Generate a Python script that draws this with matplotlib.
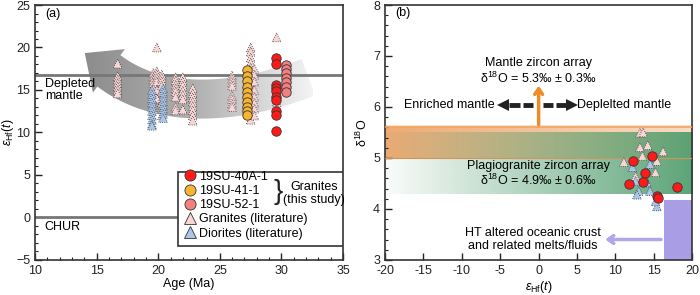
import matplotlib
matplotlib.use('Agg')
import matplotlib.pyplot as plt
import numpy as np
from matplotlib.patches import Polygon, Rectangle
from matplotlib.lines import Line2D
from matplotlib.colors import LinearSegmentedColormap, to_rgb

plt.rcParams['font.family'] = ['Liberation Sans', 'DejaVu Sans']
plt.rcParams['mathtext.fontset'] = 'custom'
plt.rcParams['mathtext.rm'] = 'Liberation Sans'
plt.rcParams['mathtext.it'] = 'Liberation Sans:italic'
plt.rcParams['font.size'] = 8

# ---- panel (a) data: age (Ma) vs eHf(t) ----
lit_granite_age = ([16.7] * 7 + [19.6] * 9 + [19.9] * 7 + [20.3] * 7 + [21.4] * 8 + [22.0] * 7
                   + [22.8] * 8 + [26.0] * 8 + [27.5] * 16 + [27.8] * 8 + [29.6] * 2)
lit_granite_ehf = ([18.1, 16.6, 16.2, 15.8, 15.4, 15.0, 14.6]
                   + [17.0, 16.6, 16.2, 15.8, 15.2, 14.6, 14.0, 13.4, 12.8]
                   + [20.0, 17.2, 16.8, 16.4, 16.0, 15.0, 14.0]
                   + [16.8, 16.4, 16.0, 15.5, 14.8, 13.5, 12.0]
                   + [16.5, 16.1, 15.6, 15.2, 14.8, 14.2, 13.0, 12.6]
                   + [16.5, 16.0, 15.5, 14.9, 14.4, 13.9, 12.7]
                   + [15.2, 14.6, 14.1, 13.6, 13.1, 12.6, 12.0, 11.4]
                   + [16.7, 16.3, 15.9, 15.5, 14.3, 13.9, 13.4, 13.0]
                   + [20.0, 19.5, 18.8, 18.2, 17.6, 17.0, 16.5, 16.0, 15.5, 15.0, 14.5, 14.0,
                      13.5, 13.0, 12.5, 11.5]
                   + [17.5, 16.8, 16.0, 15.0, 14.2, 13.5, 12.8, 12.0]
                   + [21.2, 13.6])
lit_diorite_age = [19.5] * 10 + [20.4] * 8
lit_diorite_ehf = ([15.0, 14.5, 14.0, 13.5, 13.0, 12.5, 12.0, 11.5, 11.0, 10.8]
                   + [15.2, 14.7, 14.2, 13.7, 13.2, 12.7, 12.2, 11.7])
s41_age = [27.2] * 10
s41_ehf = [17.3, 16.6, 16.0, 15.4, 14.8, 14.2, 13.6, 13.0, 12.5, 12.1]
s40a_age = [29.6] * 10
s40a_ehf = [18.8, 18.0, 15.6, 15.2, 14.9, 14.2, 13.8, 12.5, 12.0, 10.2]
s52_age = [30.4] * 7
s52_ehf = [17.9, 17.5, 17.0, 16.4, 15.9, 15.4, 14.8]
depleted_mantle = 16.8
chur = 0

# ---- panel (b) data: eHf(t) vs d18O ----
b_s40a_ehf = [12.3, 14.8, 13.9, 13.6, 11.8, 18.0, 15.4, 15.6]
b_s40a_d18o = [4.94, 5.04, 4.71, 4.52, 4.48, 4.43, 4.25, 4.21]
b_gran_ehf = [13.2, 13.6, 13.2, 16.2, 11.1, 15.4, 13.5, 15.2, 12.6, 14.2]
b_gran_d18o = [5.49, 5.50, 5.21, 5.13, 4.92, 4.94, 5.04, 4.72, 4.64, 5.25]
b_dior_ehf = [14.5, 12.2, 14.1, 12.6, 13.0, 14.5, 15.4, 15.2, 12.8, 13.8]
b_dior_d18o = [4.88, 4.82, 4.52, 4.55, 4.35, 4.35, 4.05, 4.15, 4.28, 4.62]
mantle_zircon = (5.3, 0.3)
plagio_zircon = (4.9, 0.6)

c_red, c_yel, c_lred = '#ff1a1a', '#f9b531', '#f47f7f'
c_pink, c_blue = '#f9d6d6', '#a9c7ea'

fig = plt.figure(figsize=(7, 2.95), dpi=100)
ax1 = fig.add_axes([0.05, 0.119, 0.44, 0.864])
ax2 = fig.add_axes([0.55, 0.119, 0.439, 0.864])


def style(ax):
    for sp in ax.spines.values():
        sp.set_color('#333333')
        sp.set_linewidth(1.2)
    ax.tick_params(which='both', direction='in', top=False, right=False, colors='#222222',
                   labelsize=9)
    ax.tick_params(which='major', length=5, width=1)
    ax.tick_params(which='minor', length=2.5, width=0.8)


tri_kw = dict(marker='^', s=40, edgecolors='#333333', linewidths=0.6, linestyles=':')
cir_kw = dict(marker='o', s=46, edgecolors='#333333', linewidths=0.6)

# ---------- panel (a) ----------
ax1.set_xlim(10, 35)
ax1.set_ylim(-5, 25)
style(ax1)
ax1.set_xticks(np.arange(10, 36, 5))
ax1.set_xticks(np.arange(10, 36, 1), minor=True)
ax1.set_yticks(np.arange(-5, 26, 5))
ax1.set_yticks(np.arange(-5, 26, 1), minor=True)
ax1.set_yticklabels(['\u22125', '0', '5', '10', '15', '20', '25'])

# curved gradient arrow (built in pixel-like units, then mapped back)
sx, sy = 12.32, 8.5
P = np.array([(32.2, 16.5), (27.0, 13.6), (20.5, 12.3), (16.0, 17.25)]) * [sx, sy]
t = np.linspace(0, 1, 60)[:, None]
curve = ((1 - t) ** 3 * P[0] + 3 * (1 - t) ** 2 * t * P[1]
         + 3 * (1 - t) * t ** 2 * P[2] + t ** 3 * P[3])
d = np.gradient(curve, axis=0)
d /= np.linalg.norm(d, axis=1)[:, None]
nrm = np.column_stack([-d[:, 1], d[:, 0]])
hw = 19.5
upper = curve + nrm * hw
lower = curve - nrm * hw
end, dirn, n_end = curve[-1], d[-1], nrm[-1]
head = [end + n_end * 27, end + dirn * 30, end - n_end * 27]
outline = np.vstack([upper, head, lower[::-1]]) / [sx, sy]
poly = Polygon(outline, closed=True, facecolor='none', edgecolor='none')
ax1.add_patch(poly)
gcmap = LinearSegmentedColormap.from_list('g', ['#8a8a8a', '#b0b0b0', '#f4f4f4'])
im = ax1.imshow(np.linspace(0, 1, 256).reshape(1, -1), cmap=gcmap, aspect='auto',
                extent=(13.5, 32.5, 10, 21.5), zorder=1)
im.set_clip_path(poly)

ax1.axhline(depleted_mantle, color='#777777', lw=2, zorder=2)
ax1.axhline(chur, color='#777777', lw=2, zorder=2)
ax1.text(10.8, 15.0, 'Depleted\nmantle', fontsize=9, va='center', linespacing=1.1, zorder=3)
ax1.text(10.8, -1.1, 'CHUR', fontsize=9, va='center')
ax1.text(10.8, 23.9, '(a)', fontsize=9, va='center')

ax1.scatter(lit_granite_age, lit_granite_ehf, facecolors=c_pink, zorder=4, **tri_kw)
ax1.scatter(lit_diorite_age, lit_diorite_ehf, facecolors=c_blue, zorder=4, **tri_kw)
ax1.scatter(s41_age, s41_ehf, facecolors=c_yel, zorder=5, **cir_kw)
ax1.scatter(s40a_age, s40a_ehf, facecolors=c_red, zorder=5, **cir_kw)
ax1.scatter(s52_age, s52_ehf, facecolors=c_lred, zorder=5, **cir_kw)

ax1.set_xlabel('Age (Ma)', fontsize=9, labelpad=1)
ax1.set_ylabel(r'$\varepsilon_{\mathrm{Hf}}(t)$', fontsize=9, labelpad=0)

# legend
ax1.add_patch(Rectangle((21.6, -3.4), 13.4, 8.7, facecolor='white', edgecolor='#333333',
                        lw=1.2, zorder=6))
hk = dict(ls='none', mec='#333333', mew=0.6, ms=8)
handles = [Line2D([], [], marker='o', mfc=c_red, **hk),
           Line2D([], [], marker='o', mfc=c_yel, **hk),
           Line2D([], [], marker='o', mfc=c_lred, **hk),
           Line2D([], [], marker='^', mfc=c_pink, **hk),
           Line2D([], [], marker='^', mfc=c_blue, **hk)]
labels = ['19SU-40A-1', '19SU-41-1', '19SU-52-1', 'Granites (literature)', 'Diorites (literature)']
leg = ax1.legend(handles, labels, loc='lower left', bbox_to_anchor=(0.452, 0.045),
                 frameon=False, fontsize=9, handletextpad=0.1, labelspacing=0.18,
                 borderpad=0.2, handlelength=1.2)
leg.set_zorder(7)
ax1.text(29.75, 2.95, '}', fontsize=20, va='center', ha='center', zorder=7,
         fontweight='light', color='#222222')
ax1.text(32.65, 2.8, 'Granites\n(this study)', fontsize=9, ha='center', va='center',
         linespacing=1.1, zorder=7)

# ---------- panel (b) ----------
ax2.set_xlim(-20, 20)
ax2.set_ylim(3, 8)
style(ax2)
ax2.set_xticks(np.arange(-20, 21, 5))
ax2.set_yticks(np.arange(3, 9, 1))
ax2.set_yticks(np.arange(3, 8.01, 0.2), minor=True)
ax2.set_xticklabels(['-20', '-15', '-10', '-5', '0', '5', '10', '15', '20'])
ax2.tick_params(axis='x', pad=4)

mz_lo, mz_hi = mantle_zircon[0] - mantle_zircon[1], mantle_zircon[0] + mantle_zircon[1]
pz_lo, pz_hi = plagio_zircon[0] - plagio_zircon[1], plagio_zircon[0] + plagio_zircon[1]

ocmap = LinearSegmentedColormap.from_list('o', ['#eeab74', '#f3c49c', '#f8dcc4'])
ax2.imshow(np.linspace(0, 1, 256).reshape(1, -1), cmap=ocmap, aspect='auto',
           extent=(-20, 20, mz_lo, mz_hi), zorder=1)
grn = np.array(to_rgb('#4e9c6c'))
grad = np.zeros((1, 256, 4))
grad[0, :, :3] = grn
grad[0, :, 3] = np.linspace(0.03, 0.92, 256)
ax2.imshow(grad, aspect='auto', extent=(-20, 20, pz_lo, pz_hi), zorder=2)
ax2.axhline(mz_hi, color='#f3a35f', lw=1.2, zorder=3)
ax2.axhspan(mz_hi, mz_hi + 0.04, color='#fbe0c8', lw=0, zorder=1)
ax2.axhline(mz_lo, color='#d0955c', lw=0.8, zorder=3)

ax2.add_patch(Rectangle((16.3, 3), 3.7, 1.18, facecolor='#a99de6', edgecolor='none', zorder=2))
ax2.annotate('', xy=(8.3, 3.4), xytext=(16.3, 3.4),
             arrowprops=dict(arrowstyle='->, head_length=0.5, head_width=0.35',
                             color='#b1a5ee', lw=2.5), zorder=3)
ax2.text(-0.8, 3.4, 'HT altered oceanic crust\nand related melts/fluids', fontsize=9,
         ha='center', va='center', linespacing=1.15)

ax2.annotate('', xy=(0, 6.47), xytext=(0, mz_hi),
             arrowprops=dict(arrowstyle='->, head_length=0.5, head_width=0.35',
                             color='#f08a24', lw=2.5), zorder=4)
ax2.text(0, 6.86, 'Mantle zircon array', fontsize=9, ha='center', va='center')
ax2.text(0, 6.56, 'δ$^{18}$O = 5.3‰ ± 0.3‰', fontsize=9, ha='center', va='center')
ax2.text(0, 4.85, 'Plagiogranite zircon array', fontsize=9, ha='center', va='center',
         zorder=6)
ax2.text(0, 4.56, 'δ$^{18}$O = 4.9‰ ± 0.6‰', fontsize=9, ha='center', va='center', zorder=6)

# dashed double arrow between the mantle labels
ax2.text(-5.7, 6.03, 'Enriched mantle', fontsize=9, ha='right', va='center')
ax2.text(5.0, 6.03, 'Deplelted mantle', fontsize=9, ha='left', va='center')
ax2.hlines([6.03] * 4, [-3.85, -2.0, 0.6, 2.3], [-2.4, -0.7, 1.9, 3.7], color='#222222',
           lw=3.5)
ax2.plot([-4.7], [6.03], marker='<', color='#222222', ms=8, mew=0)
ax2.plot([4.4], [6.03], marker='>', color='#222222', ms=8, mew=0)

ax2.scatter(b_gran_ehf, b_gran_d18o, facecolors=c_pink, zorder=5, **tri_kw)
ax2.scatter(b_dior_ehf, b_dior_d18o, facecolors=c_blue, zorder=5, **tri_kw)
ax2.scatter(b_s40a_ehf, b_s40a_d18o, facecolors=c_red, zorder=7, **cir_kw)
ax2.text(-18.7, 7.84, '(b)', fontsize=9, va='center')

ax2.set_xlabel(r'$\varepsilon_{\mathrm{Hf}}(t)$', fontsize=9, labelpad=1)
ax2.set_ylabel('δ$^{18}$O', fontsize=9, labelpad=2)

fig.savefig('out.png', dpi=100)
plt.close(fig)
